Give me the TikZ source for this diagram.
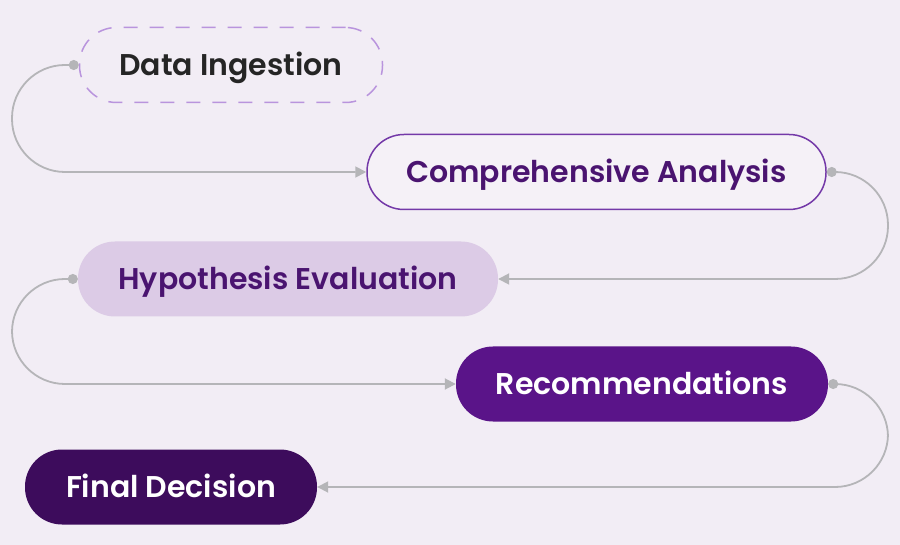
\documentclass[tikz,border=0pt]{standalone}
\usepackage{fontspec}
\setmainfont{Poppins}[BoldFont={Poppins SemiBold}]
\usetikzlibrary{arrows.meta}
\definecolor{bg}{HTML}{F2EDF5}
\definecolor{conn}{HTML}{B5B5B8}
\definecolor{dashc}{HTML}{B994DD}
\definecolor{outl}{HTML}{7439A8}
\definecolor{lav}{HTML}{DCCBE6}
\definecolor{darktext}{HTML}{252525}
\definecolor{purtext}{HTML}{4A1470}
\definecolor{rec}{HTML}{5A1489}
\definecolor{fin}{HTML}{3D0C5C}
\begin{document}
\begin{tikzpicture}[x=1pt,y=-1pt,
  stage/.style={rectangle, rounded corners=37pt, minimum height=75pt, inner sep=0pt,
    text height=26pt, text depth=5pt,
    font=\fontsize{30}{34}\selectfont\bfseries},
  conn/.style={draw=conn, line width=1.8pt, rounded corners=53pt,
    {Circle[length=10pt]}-{Triangle[length=11pt,width=11pt]}}
  ]
\useasboundingbox (0,0) rectangle (900,545);
\fill[bg] (0,0) rectangle (900,545);
\node[stage, minimum width=303pt, draw=dashc, line width=1.5pt, dash pattern=on 14pt off 12pt,
  text=darktext] (n1) at (231,65) {Data Ingestion};
\node[stage, minimum width=459pt, draw=outl, line width=1.5pt, fill=bg!80!white, text=purtext]
  (n2) at (596.5,172) {Comprehensive Analysis};
\node[stage, minimum width=420pt, fill=lav, text=purtext] (n3) at (288,279) {Hypothesis Evaluation};
\node[stage, minimum width=372pt, fill=rec, text=white] (n4) at (642,384) {Recommendations};
\node[stage, minimum width=292pt, fill=fin, text=white] (n5) at (171,487) {Final Decision};
\coordinate (L) at (12,0);
\coordinate (R) at (888,0);
\draw[conn] (n1.west) -- (n1.west -| L) -- (L |- n2.west) -- (n2.west);
\draw[conn] (n2.east) -- (n2.east -| R) -- (R |- n3.east) -- (n3.east);
\draw[conn] (n3.west) -- (n3.west -| L) -- (L |- n4.west) -- (n4.west);
\draw[conn] (n4.east) -- (n4.east -| R) -- (R |- n5.east) -- (n5.east);
\end{tikzpicture}
\end{document}
